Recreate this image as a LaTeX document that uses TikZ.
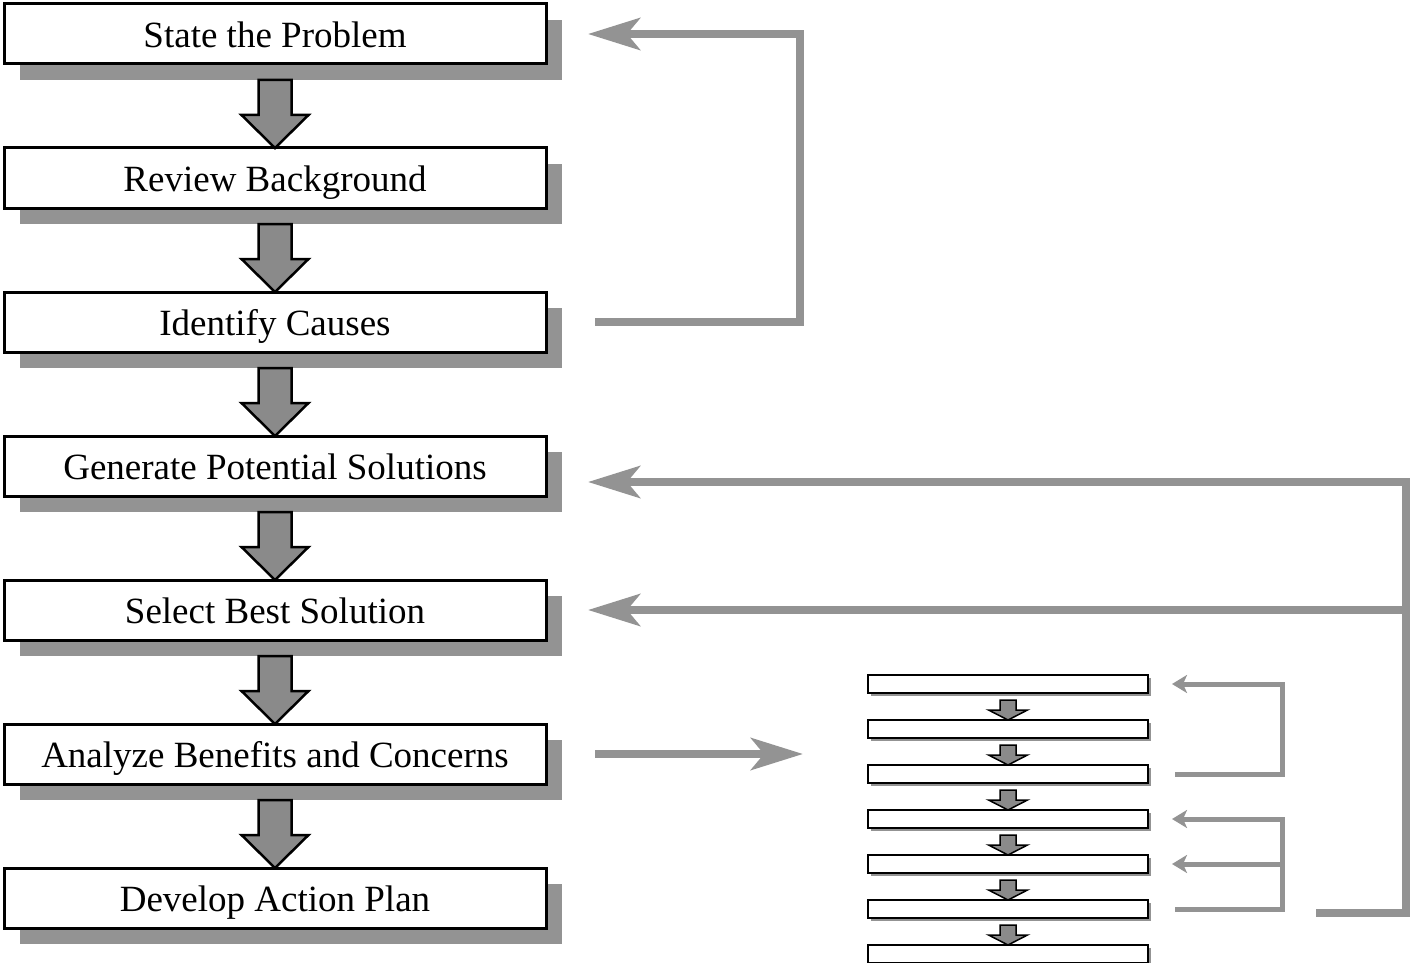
\documentclass[tikz,border=0pt]{standalone}
\usepackage{fontspec}
\setmainfont{Liberation Serif}
\usetikzlibrary{arrows.meta}
\usetikzlibrary{calc}
\usetikzlibrary{positioning}
\usetikzlibrary{shadows}

\definecolor{shade}{RGB}{147,147,147}
\definecolor{arrowfill}{RGB}{138,138,138}

\tikzset{
	stepbox/.style={draw, fill=white, line width=3pt, outer sep=0pt,
		minimum width=542pt, minimum height=60pt, inner sep=0pt,
		text height=27pt, text depth=0pt,
		font=\fontsize{37pt}{40pt}\selectfont,
		general shadow={fill=shade, shadow xshift=16pt, shadow yshift=-16pt}},
	smallbox/.style={draw, fill=white, line width=2pt, outer sep=0pt,
		minimum width=280pt, minimum height=18pt, inner sep=0pt,
		general shadow={fill=shade, shadow xshift=3pt, shadow yshift=-3pt}},
	bigarr/.style={draw=black, fill=arrowfill, line width=2.5pt, line join=miter},
	smallarr/.style={draw=black, fill=arrowfill, line width=1.5pt, line join=miter},
	fb/.style={draw=shade, line width=8pt, line join=miter,
		-{Stealth[length=52pt, width=32pt, inset=13pt]}},
	sfb/.style={draw=shade, line width=5pt, line join=miter,
		-{Stealth[length=15pt, width=18pt, inset=4pt]}}
}

% block arrow: from, to, gap, shaft half width, head half width, head length, style
\newcommand{\blockarrow}[7]{%
	\filldraw[#7] ($(#1.south)+(-#4,#3)$) -- ($(#2.north)+(-#4,-#6)$)
		-- ($(#2.north)+(-#5,-#6)$) -- (#2.north) -- ($(#2.north)+(#5,-#6)$)
		-- ($(#2.north)+(#4,-#6)$) -- ($(#1.south)+(#4,#3)$) -- cycle;}

\begin{document}
\begin{tikzpicture}[x=1pt, y=-1pt]
	\useasboundingbox (0,0) rectangle (1414,963);

	% main steps
	\node[stepbox] (s1) at (275,34) {State the Problem};
	\node[stepbox, below=84pt of s1] (s2) {Review Background};
	\node[stepbox, below=84pt of s2] (s3) {Identify Causes};
	\node[stepbox, below=84pt of s3] (s4) {Generate Potential Solutions};
	\node[stepbox, below=84pt of s4] (s5) {Select Best Solution};
	\node[stepbox, below=84pt of s5] (s6) {Analyze Benefits and Concerns};
	\node[stepbox, below=84pt of s6] (s7) {Develop Action Plan};

	% small stack
	\node[smallbox] (t1) at (1008,684) {};
	\node[smallbox, below=27pt of t1] (t2) {};
	\node[smallbox, below=27pt of t2] (t3) {};
	\node[smallbox, below=27pt of t3] (t4) {};
	\node[smallbox, below=27pt of t4] (t5) {};
	\node[smallbox, below=27pt of t5] (t6) {};
	\node[smallbox, below=27pt of t6] (t7) {};

	\foreach \a/\b in {s1/s2, s2/s3, s3/s4, s4/s5, s5/s6, s6/s7}
		\blockarrow{\a}{\b}{16}{16.5}{33.5}{33}{bigarr};
	\foreach \a/\b in {t1/t2, t2/t3, t3/t4, t4/t5, t5/t6, t6/t7}
		\blockarrow{\a}{\b}{7}{8}{19.5}{10}{smallarr};

	% feedback loops
	\draw[fb] ($(s3.east)+(49,0)$) -- ++(205,0) |- ($(s1.east)+(42,0)$);
	\draw[fb] ($(t6.east)+(168,4)$) -- ++(90,0) coordinate (j1) |- ($(s4.east)+(42,16)$);
	\draw[fb] (j1 |- s5.east) -- ($(s5.east)+(42,0)$);
	\draw[fb] ($(s6.east)+(49,0)$) -- ($(s6.east -| t1.west)+(-65,0)$);

	\draw[sfb] ($(t3.east)+(27,0)$) -- ++(107,0) |- ($(t1.east)+(24,0)$);
	\draw[sfb] ($(t6.east)+(27,0)$) -- ++(107,0) coordinate (j2) |- ($(t4.east)+(24,0)$);
	\draw[sfb] (j2 |- t5.east) -- ($(t5.east)+(24,0)$);
\end{tikzpicture}
\end{document}
